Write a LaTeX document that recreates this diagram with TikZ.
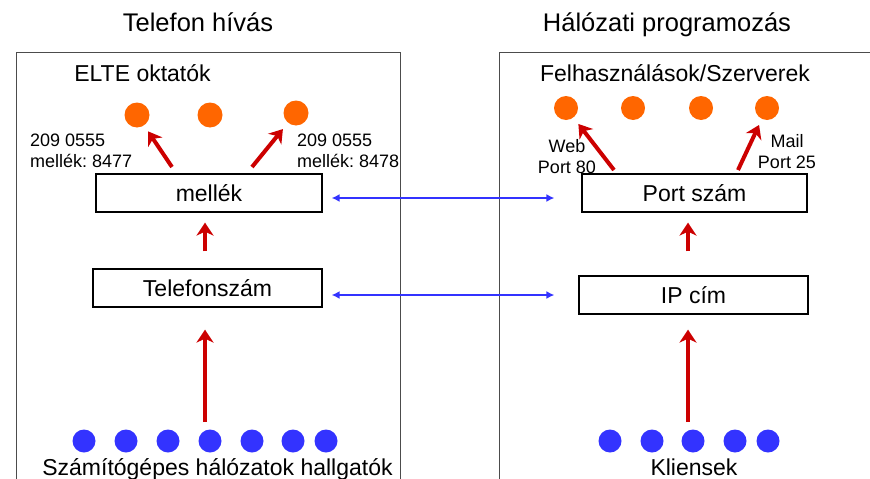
\documentclass[tikz,border=0pt]{standalone}
\usepackage{fontspec}
\setmainfont{Liberation Sans}
\usetikzlibrary{arrows.meta}
\frenchspacing

\definecolor{hopred}{HTML}{CC0000}
\definecolor{linkblue}{HTML}{3333FF}
\definecolor{dotorange}{HTML}{FF6600}

\begin{document}
\begin{tikzpicture}[x=1pt,y=-1pt,
	title/.style={font=\fontsize{25.5}{30}\selectfont, anchor=base, inner sep=0pt},
	group/.style={font=\fontsize{23}{27}\selectfont, anchor=base, inner sep=0pt},
	note/.style={font=\fontsize{18}{21}\selectfont, inner sep=0pt},
	layer/.style={draw=black, line width=1.2pt, minimum height=38pt, inner sep=0pt,
		font=\fontsize{23}{27}\selectfont, text height=16.5pt, text depth=0pt},
	frame/.style={draw=black!70, line width=1pt},
	odot/.style={circle, fill=dotorange, minimum size=25pt, inner sep=0pt},
	bdot/.style={circle, fill=linkblue, minimum size=23pt, inner sep=0pt},
	hop/.style={-{Stealth[length=13pt,width=17pt,inset=4pt]}, line width=4pt, hopred},
	link/.style={{Latex[length=8pt,width=8pt]}-{Latex[length=8pt,width=8pt]}, line width=1.6pt, linkblue}]
	\useasboundingbox (0,0) rectangle (870,479);
	\clip (0,0) rectangle (870,479);

	% the two panels
	\draw[frame] (16,52) rectangle (400,520);
	\draw[frame] (499,52) rectangle (900,520);
	\node[title] (titleL) at (198,31) {Telefon hívás};
	\node[title] (titleR) at (667,31) {Hálózati programozás};
	\node[group] (elte) at (142.5,81) {ELTE oktatók};
	\node[group] (apps) at (675,81) {Felhasználások/Szerverek};

	% layers
	\node[layer, minimum width=226pt] (mellek) at (209,193) {mellék};
	\node[layer, minimum width=229pt] (tel) at (207.5,288) {Telefonszám};
	\node[layer, minimum width=225pt] (port) at (694.5,193) {Port szám};
	\node[layer, minimum width=229pt] (ip) at (693.5,295) {IP cím};

	% end points
	\node[odot] (oL1) at (137,115) {};
	\node[odot] (oL2) at (210,115) {};
	\node[odot] (oL3) at (296,113) {};
	\foreach \x [count=\i] in {566,633,701,767}
		\node[odot, minimum size=24pt] (oR\i) at (\x,108) {};
	\foreach \x [count=\i] in {84,126,168,210,252,293,326}
		\node[bdot] (bL\i) at (\x,441) {};
	\foreach \x [count=\i] in {610,652,693,735,768}
		\node[bdot] (bR\i) at (\x,441) {};
	\node[group] (students) at (217.5,475) {Számítógépes hálózatok hallgatók};
	\node[group] (clients) at (694,475) {Kliensek};

	\node[note, anchor=base west, align=left] (numL) at (30,167) {209 0555\\mellék: 8477};
	\node[note, anchor=base west, align=left] (numR) at (297,167) {209 0555\\mellék: 8478};
	\node[note, anchor=base, align=center] (web) at (567,173) {Web\\Port 80};
	\node[note, anchor=base, align=center] (mail) at (787,168) {Mail\\Port 25};

	% red hops
	\coordinate (mL) at (172,167);
	\coordinate (mR) at (252,167);
	\coordinate (pW) at (614,170);
	\coordinate (pM) at (738,170);
	\coordinate (sL) at (205,422);
	\coordinate (sR) at (688,422);
	\draw[hop, shorten >=7pt] (mL) -- (oL1);
	\draw[hop, shorten >=8pt] (mR) -- (oL3);
	\draw[hop, shorten >=8pt] (pW) -- (oR1);
	\draw[hop, shorten >=6.5pt] (pM) -- (oR4);
	\draw[hop, shorten <=17pt, shorten >=10pt] ([xshift=-2.5pt]tel.north) -- ([xshift=-4pt]mellek.south);
	\draw[hop, shorten <=24pt, shorten >=10pt] ([xshift=-5.5pt]ip.north) -- ([xshift=-6.5pt]port.south);
	\draw[hop, shorten >=22pt] (sL) -- (sL |- tel.south);
	\draw[hop, shorten >=15pt] (sR) -- (sR |- ip.south);

	% blue links
	\draw[link, shorten <=9pt, shorten >=27pt] ([yshift=-5pt]mellek.east) -- ([yshift=-5pt]mellek.east -| port.west);
	\draw[link, shorten <=9pt, shorten >=24pt] ([yshift=-7pt]tel.east) -- ([yshift=-7pt]tel.east -| ip.west);
\end{tikzpicture}
\end{document}
